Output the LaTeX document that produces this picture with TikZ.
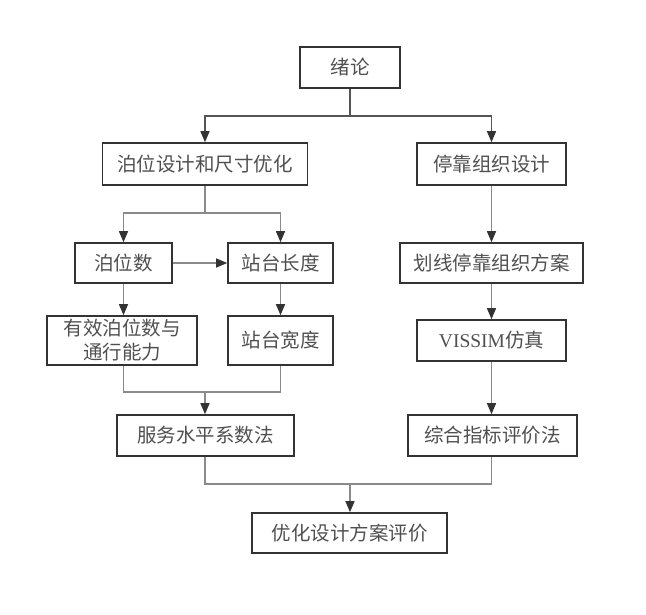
\documentclass[tikz,border=0pt]{standalone}
\usepackage{fontspec}
\setmainfont{Liberation Serif}
\newfontfamily\cjk{Noto Sans CJK SC}
\usetikzlibrary{arrows.meta}
\definecolor{boxc}{HTML}{333333}
\definecolor{linec}{HTML}{8A8A8A}
\definecolor{darkl}{HTML}{555555}
\definecolor{txtc}{HTML}{505050}
\begin{document}
\begin{tikzpicture}[x=1pt,y=-1pt,
  bx/.style={draw=boxc,line width=1.6pt,fill=white,text=txtc,inner sep=0pt,
    font=\fontsize{19.5}{22}\selectfont\cjk,align=center},
  conn/.style={draw=linec,line width=1.3pt},
  dconn/.style={draw=darkl,line width=1.3pt},
  arr/.style={-{Triangle[length=11pt,width=9pt,fill=boxc,color=boxc]}}
]
\useasboundingbox (0,0) rectangle (646,615);
\fill[white] (0,0) rectangle (646,615);

\node[bx,minimum width=100pt,minimum height=41pt] (xl) at (350,67.5) {绪论};
\node[bx,minimum width=205pt,minimum height=42pt] (bw) at (205,164) {泊位设计和尺寸优化};
\node[bx,minimum width=149pt,minimum height=42pt] (tk) at (491.5,164) {停靠组织设计};
\node[bx,minimum width=97pt,minimum height=40pt] (bws) at (123.5,263) {泊位数};
\node[bx,minimum width=105pt,minimum height=40pt] (zc) at (280.5,263) {站台长度};
\node[bx,minimum width=183pt,minimum height=40pt] (hx) at (491.5,263) {划线停靠组织方案};
\node[bx,minimum width=150pt,minimum height=49pt,font=\fontsize{19.5}{24}\selectfont\cjk] (yx) at (122,340.5) {有效泊位数与\\通行能力};
\node[bx,minimum width=105pt,minimum height=49pt] (zk) at (280.5,340.5) {站台宽度};
\node[bx,minimum width=149pt,minimum height=41pt] (vs) at (491.5,340.5) {{\rmfamily VISSIM}仿真};
\node[bx,minimum width=169pt,minimum height=41pt] (zh) at (492.5,435.5) {综合指标评价法};
\node[bx,minimum width=177pt,minimum height=41pt] (fw) at (205.5,435.5) {服务水平系数法};
\node[bx,minimum width=195pt,minimum height=40pt] (yh) at (349.5,533) {优化设计方案评价};

\coordinate (j1) at (350,116);
\coordinate (j2) at (205,213);
\coordinate (j3) at (205,392);
\coordinate (j4) at (350,484);

% from 绪论
\draw[dconn] (xl.south) -- (j1);
\draw[dconn,arr] (j1) -| (bw.north);
\draw[dconn,arr] (j1) -| (tk.north);

% 泊位设计
\draw[conn] (bw.south) -- (j2);
\draw[conn,arr] (j2) -| (bws.north);
\draw[conn,arr] (j2) -| (zc.north);
\draw[conn,arr] (bws.east) -- (zc.west);
\draw[conn,arr] (bws.south) -- (bws.south |- yx.north);
\draw[conn,arr] (zc.south) -- (zk.north);

% right column
\draw[conn,arr] (tk.south) -- (hx.north);
\draw[conn,arr] (hx.south) -- (vs.north);
\draw[conn,arr] (vs.south) -- (vs.south |- zh.north);

% merge to 服务水平
\draw[conn] (bws.south |- yx.south) |- (j3);
\draw[conn] (zk.south) |- (j3);
\draw[conn,arr] (j3) -- (j3 |- fw.north);

% merge to 优化
\draw[conn] (j3 |- fw.south) |- (j4);
\draw[conn] (vs.south |- zh.south) |- (j4);
\draw[conn,arr] (j4) -- (j4 |- yh.north);
\end{tikzpicture}
\end{document}
